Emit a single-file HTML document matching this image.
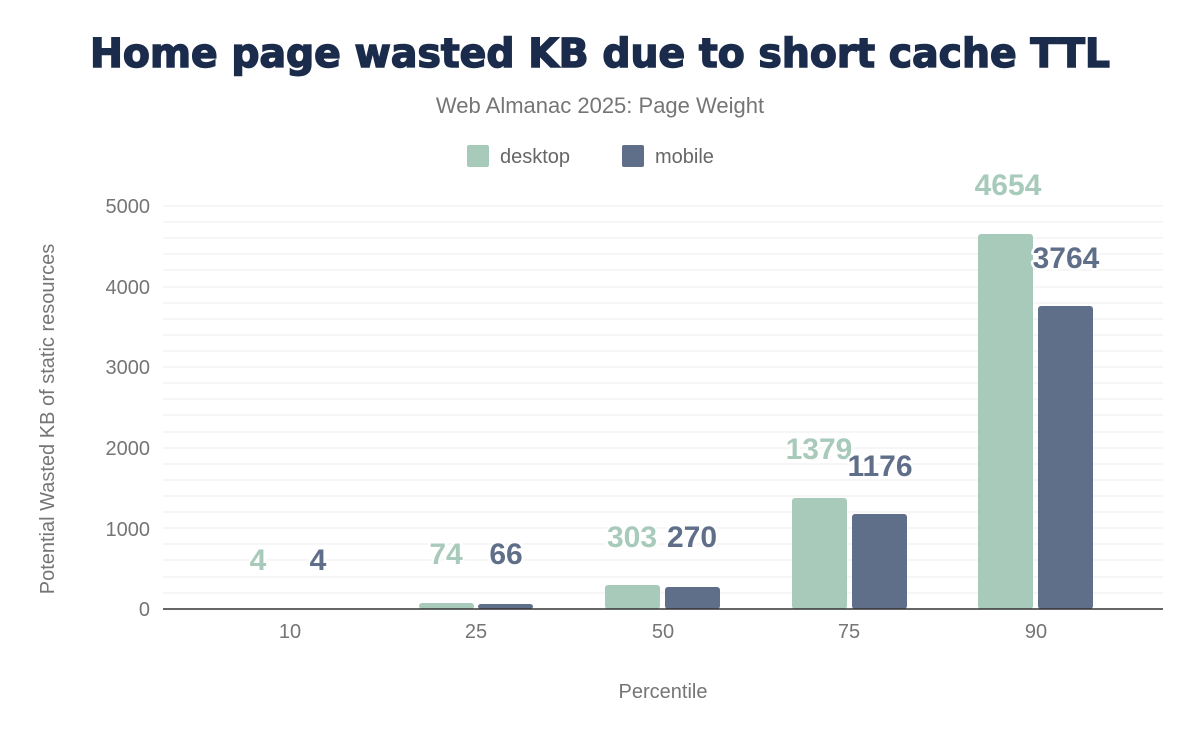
<!DOCTYPE html>
<html><head><meta charset="utf-8"><style>
body{margin:0;background:#fff;}
svg text{font-family:"Liberation Sans",sans-serif;}
</style></head><body>
<svg width="1200" height="742" viewBox="0 0 1200 742" xmlns="http://www.w3.org/2000/svg">
<rect width="1200" height="742" fill="#fff"/>
<text x="600" y="67" text-anchor="middle" font-size="40" font-weight="900" fill="#1a2b4b" stroke="#1a2b4b" stroke-width="1.5" style="font-family:'DejaVu Sans','Liberation Sans',sans-serif" textLength="1020" lengthAdjust="spacingAndGlyphs">Home page wasted KB due to short cache TTL</text>
<text x="600" y="113" text-anchor="middle" font-size="22" fill="#757575">Web Almanac 2025: Page Weight</text>
<rect x="467" y="145" width="22" height="22" rx="2" fill="#a8cabb"/>
<text x="500" y="163" font-size="20" fill="#666">desktop</text>
<rect x="622" y="145" width="22" height="22" rx="2" fill="#5f6f89"/>
<text x="655" y="163" font-size="20" fill="#666">mobile</text>
<g stroke="#f3f3f3" stroke-width="1.5">
<line x1="163" x2="1163" y1="206" y2="206"/><line x1="163" x2="1163" y1="222" y2="222"/><line x1="163" x2="1163" y1="238" y2="238"/><line x1="163" x2="1163" y1="254" y2="254"/><line x1="163" x2="1163" y1="270" y2="270"/>
<line x1="163" x2="1163" y1="287" y2="287"/><line x1="163" x2="1163" y1="303" y2="303"/><line x1="163" x2="1163" y1="319" y2="319"/><line x1="163" x2="1163" y1="335" y2="335"/><line x1="163" x2="1163" y1="351" y2="351"/>
<line x1="163" x2="1163" y1="367" y2="367"/><line x1="163" x2="1163" y1="383" y2="383"/><line x1="163" x2="1163" y1="399" y2="399"/><line x1="163" x2="1163" y1="415" y2="415"/><line x1="163" x2="1163" y1="432" y2="432"/>
<line x1="163" x2="1163" y1="448" y2="448"/><line x1="163" x2="1163" y1="464" y2="464"/><line x1="163" x2="1163" y1="480" y2="480"/><line x1="163" x2="1163" y1="496" y2="496"/><line x1="163" x2="1163" y1="512" y2="512"/>
<line x1="163" x2="1163" y1="528" y2="528"/><line x1="163" x2="1163" y1="544" y2="544"/><line x1="163" x2="1163" y1="560" y2="560"/><line x1="163" x2="1163" y1="577" y2="577"/><line x1="163" x2="1163" y1="593" y2="593"/>
</g>
<g font-size="20" fill="#757575" text-anchor="end">
<text x="150" y="213">5000</text><text x="150" y="294">4000</text><text x="150" y="374">3000</text><text x="150" y="455">2000</text><text x="150" y="536">1000</text><text x="150" y="616">0</text>
</g>
<g fill="#a8cabb">
<rect x="419" y="603" width="55" height="6" rx="3"/>
<rect x="605" y="585" width="55" height="24" rx="3"/>
<rect x="792" y="498" width="55" height="111" rx="3"/>
<rect x="978" y="234" width="55" height="375" rx="3"/>
</g>
<g fill="#5f6f89">
<rect x="478" y="604" width="55" height="5" rx="3"/>
<rect x="665" y="587" width="55" height="22" rx="3"/>
<rect x="852" y="514" width="55" height="95" rx="3"/>
<rect x="1038" y="306" width="55" height="303" rx="3"/>
</g>
<line x1="163" x2="1163" y1="609" y2="609" stroke="#333" stroke-width="1.5"/>
<g font-size="20" fill="#757575" text-anchor="middle">
<text x="290" y="638">10</text><text x="476" y="638">25</text><text x="663" y="638">50</text><text x="849" y="638">75</text><text x="1036" y="638">90</text>
</g>
<text x="663" y="698" text-anchor="middle" font-size="20" fill="#757575">Percentile</text>
<text transform="translate(54,419) rotate(-90)" text-anchor="middle" font-size="20" fill="#757575">Potential Wasted KB of static resources</text>
<g font-size="30" font-weight="bold" text-anchor="middle" stroke="#fff" stroke-width="5" paint-order="stroke" stroke-linejoin="round">
<text x="258" y="570" fill="#a8cabb">4</text><text x="318" y="570" fill="#5f6f89">4</text>
<text x="446" y="564" fill="#a8cabb">74</text><text x="506" y="564" fill="#5f6f89">66</text>
<text x="632" y="547" fill="#a8cabb">303</text><text x="692" y="547" fill="#5f6f89">270</text>
<text x="819" y="459" fill="#a8cabb">1379</text><text x="880" y="476" fill="#5f6f89">1176</text>
<text x="1008" y="195" fill="#a8cabb">4654</text><text x="1066" y="268" fill="#5f6f89">3764</text>
</g>
</svg>
</body></html>
